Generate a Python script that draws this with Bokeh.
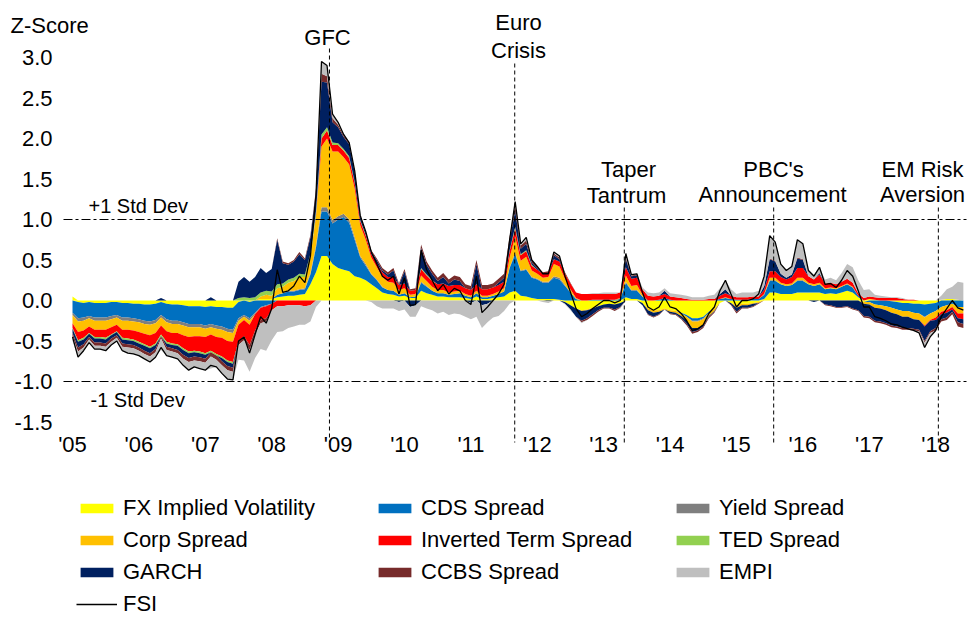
import numpy as np
import pandas as pd
from bokeh.plotting import figure
from bokeh.models import (Label, Legend, LegendItem, FixedTicker, LinearAxis,
                          PrintfTickFormatter, ColumnDataSource)
from bokeh.embed import file_html
from bokeh.resources import INLINE

# ---------------- data (monthly, Jan 2005 .. Jun 2018) ----------------
months = pd.date_range("2005-01-01", "2018-06-01", freq="MS")

fx = [0.05, -0.02, -0.03, -0.02, -0.03, -0.03, -0.03, -0.02, -0.02, -0.03, -0.03, -0.04,
      -0.04, -0.05, -0.05, -0.04, -0.02, -0.04, -0.05, -0.05, -0.06, -0.07, -0.07, -0.07,
      -0.08, -0.07, -0.08, -0.08, -0.09, -0.09, -0.02, 0.00, -0.02, 0.00, 0.02, 0.02,
      0.02, 0.04, 0.05, 0.06, 0.06, 0.07, 0.08, 0.20, 0.35, 0.55, 0.55, 0.45,
      0.40, 0.38, 0.36, 0.30, 0.28, 0.25, 0.20, 0.15, 0.10, 0.08, 0.07, 0.05,
      0.06, 0.03, 0.03, 0.12, 0.09, 0.07, 0.05, 0.05, 0.04, 0.04, 0.04, 0.03,
      0.02, 0.05, 0.02, 0.02, 0.03, 0.04, 0.05, 0.10, 0.12, 0.06, 0.05, 0.03,
      0.02, 0.02, 0.02, 0.02, 0.01, -0.02, -0.06, -0.10, -0.12, -0.11, -0.09, -0.07,
      -0.05, -0.04, -0.05, -0.03, 0.04, 0.02, 0.02, -0.03, -0.10, -0.12, -0.12, -0.10,
      -0.12, -0.13, -0.15, -0.18, -0.22, -0.22, -0.20, -0.14, -0.10, -0.03, 0.00, -0.03,
      -0.06, -0.04, -0.04, -0.03, -0.02, 0.02, 0.10, 0.10, 0.08, 0.08, 0.08, 0.10,
      0.10, 0.10, 0.10, 0.10, 0.08, 0.09, 0.08, 0.10, 0.12, 0.10, 0.04, -0.02,
      0.02, 0.01, 0.00, 0.00, -0.01, -0.02, -0.03, -0.03, -0.04, -0.04, -0.05, -0.04,
      -0.03, 0.01, 0.02, 0.02, 0.01, 0.00]

cds = [-0.15, -0.20, -0.18, -0.17, -0.18, -0.18, -0.18, -0.17, -0.16, -0.18, -0.18, -0.18,
       -0.19, -0.20, -0.21, -0.20, -0.16, -0.19, -0.20, -0.20, -0.21, -0.22, -0.22, -0.22,
       -0.23, -0.22, -0.23, -0.24, -0.26, -0.27, -0.20, -0.18, -0.20, -0.15, -0.08, -0.06,
       -0.04, 0.03, 0.04, 0.05, 0.05, 0.06, 0.06, 0.12, 0.30, 0.55, 0.55, 0.50,
       0.60, 0.65, 0.60, 0.45, 0.25, 0.18, 0.12, 0.10, 0.06, 0.05, 0.05, 0.02,
       0.03, 0.01, 0.02, 0.10, 0.08, 0.05, 0.04, 0.04, 0.03, 0.04, 0.05, 0.03,
       0.02, 0.04, 0.02, 0.02, 0.03, 0.04, 0.06, 0.30, 0.45, 0.30, 0.33, 0.25,
       0.24, 0.20, 0.20, 0.26, 0.25, 0.18, 0.10, 0.02, 0.00, 0.00, 0.01, 0.01,
       0.01, 0.01, 0.01, 0.02, 0.18, 0.10, 0.10, 0.05, 0.00, 0.00, 0.01, 0.03,
       0.01, 0.00, -0.01, -0.02, -0.03, -0.03, -0.02, -0.01, 0.00, 0.02, 0.03, 0.02,
       0.01, 0.01, 0.01, 0.02, 0.02, 0.05, 0.14, 0.14, 0.12, 0.10, 0.11, 0.14,
       0.14, 0.10, 0.08, 0.10, 0.06, 0.06, 0.06, 0.07, 0.08, 0.06, 0.02, 0.00,
       -0.02, -0.05, -0.06, -0.07, -0.08, -0.09, -0.10, -0.10, -0.11, -0.12, -0.15, -0.12,
       -0.10, -0.08, -0.06, -0.04, -0.08, -0.08]

yld = [-0.03, -0.04, -0.04, -0.03, -0.04, -0.04, -0.04, -0.04, -0.03, -0.04, -0.04, -0.04,
       -0.04, -0.04, -0.04, -0.04, -0.03, -0.04, -0.04, -0.04, -0.04, -0.04, -0.04, -0.04,
       -0.04, -0.04, -0.04, -0.04, -0.04, -0.04, -0.03, -0.02, -0.03, -0.02, -0.01, -0.01,
       0.00, 0.00, 0.00, 0.01, 0.01, 0.01, 0.01, 0.02, 0.03, 0.05, 0.05, 0.04,
       0.04, 0.04, 0.04, 0.03, 0.02, 0.02, 0.01, 0.01, 0.01, 0.00, 0.00, 0.00,
       0.00, 0.00, 0.00, 0.01, 0.01, 0.00, 0.00, 0.00, 0.00, 0.00, 0.00, 0.00,
       0.00, 0.00, 0.00, 0.00, 0.00, 0.00, 0.00, 0.01, 0.02, 0.01, 0.01, 0.01,
       0.01, 0.01, 0.01, 0.02, 0.02, 0.01, 0.00, 0.00, 0.00, 0.00, 0.00, 0.00,
       0.00, 0.00, 0.00, 0.00, 0.01, 0.01, 0.01, 0.00, 0.00, 0.00, 0.00, 0.00,
       0.00, 0.00, 0.00, 0.00, -0.01, -0.01, -0.01, 0.00, 0.00, 0.00, 0.00, 0.00,
       0.00, 0.00, 0.00, 0.00, 0.00, 0.00, 0.01, 0.01, 0.00, 0.00, 0.00, 0.01,
       0.01, 0.00, 0.00, 0.00, 0.00, 0.00, 0.00, 0.00, 0.00, 0.00, 0.00, 0.00,
       0.00, 0.00, 0.00, 0.00, 0.00, 0.00, 0.00, 0.00, 0.00, 0.00, -0.01, 0.00,
       0.00, 0.00, 0.00, 0.00, 0.00, 0.00]

corp = [-0.10, -0.13, -0.12, -0.10, -0.11, -0.11, -0.11, -0.10, -0.09, -0.11, -0.11, -0.11,
        -0.12, -0.12, -0.13, -0.12, -0.10, -0.11, -0.11, -0.11, -0.12, -0.12, -0.11, -0.11,
        -0.10, -0.09, -0.10, -0.10, -0.11, -0.11, -0.05, -0.04, -0.05, 0.00, 0.03, 0.05,
        0.04, 0.08, 0.08, 0.10, 0.12, 0.15, 0.14, 0.20, 0.35, 0.75, 0.85, 0.85,
        0.80, 0.70, 0.68, 0.60, 0.38, 0.30, 0.20, 0.15, 0.12, 0.10, 0.10, 0.06,
        0.06, 0.03, 0.03, 0.08, 0.06, 0.05, 0.04, 0.04, 0.03, 0.03, 0.03, 0.02,
        0.02, 0.03, 0.02, 0.02, 0.02, 0.03, 0.04, 0.12, 0.20, 0.12, 0.15, 0.08,
        0.06, 0.05, 0.06, 0.15, 0.14, 0.08, 0.04, 0.01, -0.01, -0.01, -0.01, 0.00,
        0.00, 0.00, 0.00, 0.01, 0.08, 0.05, 0.06, 0.02, -0.02, -0.03, -0.02, -0.01,
        -0.02, -0.02, -0.03, -0.05, -0.08, -0.08, -0.07, -0.04, -0.03, 0.00, 0.01, 0.00,
        -0.03, -0.02, -0.02, -0.01, -0.01, 0.01, 0.03, 0.03, 0.02, 0.02, 0.02, 0.03,
        0.03, 0.02, 0.02, 0.02, 0.01, 0.01, 0.01, 0.01, 0.01, 0.01, 0.00, -0.02,
        -0.03, -0.04, -0.04, -0.05, -0.06, -0.06, -0.07, -0.07, -0.08, -0.08, -0.10, -0.08,
        -0.08, -0.06, -0.06, -0.04, -0.08, -0.08]

inv = [-0.06, -0.10, -0.09, -0.08, -0.09, -0.09, -0.10, -0.09, -0.08, -0.10, -0.11, -0.11,
       -0.12, -0.13, -0.14, -0.13, -0.11, -0.13, -0.13, -0.14, -0.16, -0.18, -0.18, -0.19,
       -0.20, -0.20, -0.21, -0.23, -0.24, -0.25, -0.20, -0.20, -0.25, -0.20, -0.15, -0.15,
       -0.08, -0.07, -0.07, -0.06, -0.06, -0.06, -0.07, -0.06, 0.02, 0.10, 0.10, 0.08,
       0.08, 0.08, 0.08, 0.07, 0.05, 0.05, 0.04, 0.05, 0.06, 0.06, 0.07, 0.06,
       0.06, 0.05, 0.05, 0.08, 0.07, 0.07, 0.07, 0.08, 0.08, 0.08, 0.07, 0.07,
       0.07, 0.08, 0.08, 0.08, 0.08, 0.08, 0.08, 0.08, 0.10, 0.07, 0.07, 0.06,
       0.05, 0.05, 0.05, 0.06, 0.06, 0.06, 0.07, 0.07, 0.08, 0.08, 0.07, 0.07,
       0.07, 0.07, 0.07, 0.07, 0.10, 0.09, 0.09, 0.07, 0.06, 0.05, 0.05, 0.05,
       0.04, 0.04, 0.03, 0.02, 0.01, 0.01, 0.01, 0.02, 0.02, 0.04, 0.05, 0.04,
       0.03, 0.03, 0.03, 0.03, 0.03, 0.05, 0.08, 0.08, 0.07, 0.06, 0.08, 0.12,
       0.12, 0.08, 0.06, 0.10, 0.06, 0.06, 0.05, 0.05, 0.06, 0.05, 0.03, 0.03,
       0.03, 0.03, 0.03, 0.03, 0.03, 0.03, 0.02, 0.01, 0.01, 0.00, -0.01, -0.01,
       -0.03, -0.03, -0.03, -0.03, -0.06, -0.07]

ted = [-0.01, -0.02, -0.02, -0.01, -0.02, -0.02, -0.02, -0.01, -0.01, -0.02, -0.02, -0.02,
       -0.02, -0.02, -0.02, -0.02, -0.02, -0.02, -0.02, -0.02, -0.02, -0.02, -0.02, -0.02,
       -0.02, -0.02, -0.02, -0.02, -0.02, -0.02, 0.03, 0.04, 0.03, 0.04, 0.05, 0.05,
       0.05, 0.05, 0.04, 0.04, 0.04, 0.04, 0.03, 0.04, 0.05, 0.05, 0.04, 0.03,
       0.02, 0.02, 0.02, 0.01, 0.01, 0.01, 0.00, 0.00, 0.00, 0.00, 0.00, 0.00,
       0.00, 0.00, 0.00, 0.01, 0.01, 0.01, 0.00, 0.00, 0.00, 0.00, 0.00, 0.00,
       0.00, 0.00, 0.00, 0.00, 0.00, 0.00, 0.00, 0.01, 0.02, 0.01, 0.01, 0.01,
       0.00, 0.00, 0.00, 0.00, 0.00, 0.00, 0.00, 0.00, 0.00, 0.00, 0.00, 0.00,
       0.00, 0.00, 0.00, 0.00, 0.00, 0.00, 0.00, 0.00, 0.00, 0.00, 0.00, 0.00,
       0.00, 0.00, 0.00, 0.00, 0.00, 0.00, 0.00, 0.00, 0.00, 0.00, 0.00, 0.00,
       0.00, 0.00, 0.00, 0.00, 0.00, 0.00, 0.00, 0.00, 0.00, 0.00, 0.00, 0.00,
       0.00, 0.00, 0.00, 0.00, 0.00, 0.00, 0.00, 0.00, 0.00, 0.00, 0.00, 0.00,
       0.00, 0.00, 0.00, 0.00, 0.00, 0.00, 0.00, 0.00, 0.00, 0.00, 0.00, 0.00,
       0.00, 0.00, 0.00, 0.00, 0.00, 0.00]

garch = [-0.05, -0.07, -0.06, -0.04, -0.05, -0.05, -0.05, -0.04, -0.04, -0.05, -0.05, -0.05,
         -0.05, -0.06, -0.06, -0.05, 0.03, -0.04, -0.04, -0.05, -0.06, -0.06, -0.05, -0.05,
         -0.05, 0.04, 0.00, -0.04, -0.05, -0.05, 0.20, 0.25, 0.20, 0.25, 0.30, 0.22,
         0.28, 0.55, 0.25, 0.18, 0.20, 0.24, 0.18, 0.20, 0.25, 0.65, 0.55, 0.25,
         0.20, 0.15, 0.15, 0.12, 0.05, 0.03, 0.03, 0.04, 0.02, 0.03, 0.08, -0.02,
         0.15, -0.08, -0.06, 0.25, 0.12, 0.08, 0.04, 0.08, 0.03, 0.07, 0.05, 0.00,
         -0.03, 0.25, -0.06, -0.04, 0.00, 0.03, 0.05, 0.12, 0.20, 0.07, 0.08, 0.03,
         0.02, 0.00, -0.01, 0.05, 0.03, -0.02, -0.05, -0.10, -0.12, -0.10, -0.07, -0.05,
         -0.04, -0.05, -0.06, -0.05, 0.10, 0.03, 0.03, -0.03, -0.05, -0.05, -0.03, 0.04,
         -0.02, -0.02, -0.03, -0.04, -0.05, -0.03, -0.02, -0.01, -0.01, 0.02, 0.05, -0.02,
         -0.05, -0.03, -0.03, -0.03, 0.00, 0.05, 0.15, 0.12, 0.04, 0.02, 0.03, 0.12,
         0.10, 0.00, -0.02, 0.02, -0.05, -0.06, -0.08, -0.08, -0.07, -0.10, -0.12, -0.15,
         -0.15, -0.16, -0.16, -0.16, -0.16, -0.15, -0.14, -0.14, -0.12, -0.12, -0.18, -0.13,
         -0.10, -0.06, -0.06, -0.03, -0.05, -0.06]

ccbs = [-0.04, -0.05, -0.04, -0.03, -0.04, -0.04, -0.04, -0.04, -0.03, -0.04, -0.04, -0.04,
        -0.04, -0.04, -0.04, -0.04, -0.03, -0.04, -0.04, -0.04, -0.05, -0.05, -0.05, -0.05,
        -0.05, -0.05, -0.05, -0.05, -0.05, -0.05, -0.05, -0.05, -0.06, -0.05, -0.04, -0.04,
        0.00, 0.02, 0.02, 0.02, 0.02, 0.03, 0.02, 0.03, 0.03, 0.10, 0.08, 0.05,
        0.03, 0.02, 0.02, 0.02, 0.01, 0.01, 0.02, 0.02, 0.03, 0.03, 0.03, 0.02,
        0.03, 0.02, 0.02, 0.04, 0.04, 0.04, 0.04, 0.05, 0.05, 0.05, 0.05, 0.05,
        0.05, 0.05, 0.05, 0.05, 0.05, 0.05, 0.05, 0.05, 0.07, 0.04, 0.04, 0.03,
        0.02, 0.02, 0.02, 0.02, 0.02, 0.02, 0.01, 0.00, -0.02, -0.02, -0.02, -0.02,
        -0.01, -0.01, -0.02, -0.01, 0.02, 0.01, 0.01, 0.00, -0.01, -0.01, -0.01, 0.00,
        -0.01, -0.01, -0.01, -0.02, -0.02, -0.02, -0.02, -0.02, -0.01, 0.00, 0.00, -0.01,
        -0.02, -0.01, -0.01, -0.01, -0.01, 0.00, 0.01, 0.01, 0.00, 0.00, 0.00, 0.01,
        0.01, 0.00, 0.00, 0.00, -0.01, -0.01, -0.01, -0.01, -0.01, -0.01, -0.01, -0.02,
        -0.02, -0.02, -0.02, -0.02, -0.02, -0.02, -0.02, -0.02, -0.02, -0.02, -0.02, -0.02,
        -0.03, -0.03, -0.03, -0.03, -0.05, -0.05]

empi = [-0.06, -0.07, -0.04, -0.04, -0.04, -0.04, -0.05, -0.04, -0.04, -0.05, -0.07, -0.07,
        -0.06, -0.06, -0.07, -0.06, -0.14, -0.07, -0.07, -0.07, -0.08, -0.10, -0.08, -0.09,
        -0.09, -0.15, -0.09, -0.10, -0.11, -0.10, -0.18, -0.25, -0.27, -0.29, -0.32, -0.36,
        -0.37, -0.32, -0.31, -0.28, -0.26, -0.24, -0.23, -0.20, -0.08, 0.15, 0.13, 0.05,
        0.03, 0.01, 0.00, 0.00, 0.00, 0.00, -0.02, -0.07, -0.10, -0.10, -0.10, -0.11,
        -0.11, -0.12, -0.14, -0.07, -0.10, -0.12, -0.16, -0.14, -0.18, -0.16, -0.17, -0.20,
        -0.20, -0.20, -0.28, -0.23, -0.21, -0.19, -0.13, -0.04, 0.04, 0.02, 0.04, 0.00,
        0.00, -0.02, -0.02, 0.02, 0.02, -0.01, -0.01, 0.00, -0.01, 0.00, 0.01, 0.01,
        0.02, 0.02, 0.02, -0.01, 0.05, 0.01, 0.01, 0.02, 0.04, 0.04, 0.04, 0.03,
        0.04, 0.04, 0.04, 0.04, 0.03, 0.03, 0.03, 0.04, 0.05, 0.07, 0.11, 0.08,
        0.04, 0.06, 0.06, 0.05, 0.07, 0.12, 0.28, 0.23, 0.12, 0.09, 0.10, 0.22,
        0.19, 0.07, 0.06, 0.07, 0.05, 0.06, 0.05, 0.11, 0.18, 0.19, 0.16, 0.10,
        0.09, 0.03, 0.03, 0.02, 0.01, 0.01, 0.01, 0.00, -0.01, -0.02, -0.06, -0.05,
        0.00, 0.05, 0.12, 0.15, 0.22, 0.22]

series_names = ["FX Implied Volatility", "CDS Spread", "Yield Spread", "Corp Spread",
                "Inverted Term Spread", "TED Spread", "GARCH", "CCBS Spread", "EMPI"]
series_values = [fx, cds, yld, corp, inv, ted, garch, ccbs, empi]
series_colors = ["#FFFF00", "#0070C0", "#7F7F7F", "#FFC000", "#FF0000",
                 "#92D050", "#002060", "#772B2B", "#BFBFBF"]

year_ticks = list(range(2005, 2019))
y_ticks = [-1.5, -1.0, -0.5, 0.0, 0.5, 1.0, 1.5, 2.0, 2.5, 3.0]
std_levels = [1.0, -1.0]
std_labels = ["+1 Std Dev", "-1 Std Dev"]

event_dates = [2008.87, 2011.66, 2013.31, 2015.56, 2018.04]
event_labels = [["GFC"], ["Euro", "Crisis"], ["Taper", "Tantrum"],
                ["PBC's", "Announcement"], ["EM Risk", "Aversion"]]

for v in series_values:
    assert len(v) == len(months), len(v)

t = (months.year + (months.month - 1) / 12.0).to_numpy()

# ---------------- figure: the frame fills the whole canvas ----------------
W, H = 968, 617
FONT = "Liberation Sans"
PX_YEAR, PX_UNIT = 66.4, 81.0
X0 = 2005 - 72 / PX_YEAR
X1 = X0 + W / PX_YEAR
Y1 = 300 / PX_UNIT
Y0 = Y1 - H / PX_UNIT


def sx2x(sx):
    return X0 + sx / PX_YEAR


def sy2y(sy):
    return Y1 - sy / PX_UNIT


p = figure(width=W, height=H, x_range=(X0, X1), y_range=(Y0, Y1),
           output_backend="svg", toolbar_location=None,
           x_axis_location=None, y_axis_location=None, min_border=0)
p.xgrid.visible = False
p.ygrid.visible = False
p.outline_line_color = None
p.background_fill_color = "white"
p.border_fill_color = "white"

pos_base = np.zeros(len(t))
neg_base = np.zeros(len(t))
legend_items = []
for name, vals, col in zip(series_names, series_values, series_colors):
    v = np.asarray(vals, dtype=float)
    pos = np.clip(v, 0, None)
    neg = np.clip(v, None, 0)
    src_p = ColumnDataSource(dict(x=t, y1=pos_base.copy(), y2=pos_base + pos))
    src_n = ColumnDataSource(dict(x=t, y1=neg_base.copy(), y2=neg_base + neg))
    rp = p.varea(x="x", y1="y1", y2="y2", source=src_p, fill_color=col)
    p.varea(x="x", y1="y1", y2="y2", source=src_n, fill_color=col)
    pos_base = pos_base + pos
    neg_base = neg_base + neg
    legend_items.append(LegendItem(label=name, renderers=[rp]))

fsi = np.sum(np.asarray(series_values, dtype=float), axis=0)
rl = p.line(t, fsi, line_color="black", line_width=1.3)
fsi_item = LegendItem(label="FSI", renderers=[rl])

# +/-1 std dev reference lines
p.segment(x0=[sx2x(63)] * 2, y0=std_levels, x1=[sx2x(966)] * 2, y1=std_levels,
          line_color="black", line_width=1, line_dash="9 3 3 3")
for lvl, txt, sx, sy in zip(std_levels, std_labels, [88, 90], [205, 399]):
    p.add_layout(Label(x=sx2x(sx), y=sy2y(sy), text=txt, text_align="left",
                       text_baseline="middle", text_font=FONT, text_font_size="20px",
                       text_color="black"))

# event lines and labels
tops = [sy2y(48), sy2y(63), sy2y(207), sy2y(207), sy2y(207)]
p.segment(x0=event_dates, y0=tops, x1=event_dates, y1=[sy2y(442)] * len(event_dates),
          line_color="black", line_width=1, line_dash="4 3")

label_pos = [[(327, 37)], [(518, 22), (518, 50)], [(628, 169), (626, 195)],
             [(773, 169), (772, 194)], [(922, 169), (922, 194)]]
for lines, poss in zip(event_labels, label_pos):
    for txt, (sx, sy) in zip(lines, poss):
        p.add_layout(Label(x=sx2x(sx), y=sy2y(sy), text=txt, text_align="center",
                           text_baseline="middle", text_font=FONT,
                           text_font_size="22px", text_color="black"))

p.add_layout(Label(x=sx2x(10), y=sy2y(25), text="Z-Score", text_align="left",
                   text_baseline="middle", text_font=FONT, text_font_size="22px",
                   text_color="black"))

# axes drawn at fixed positions inside the canvas
xaxis = LinearAxis(ticker=FixedTicker(ticks=year_ticks), fixed_location=sy2y(430),
                   major_label_overrides={y: "'%02d" % (y % 100) for y in year_ticks},
                   major_label_standoff=1)
yaxis = LinearAxis(ticker=FixedTicker(ticks=y_ticks), fixed_location=sx2x(62),
                   formatter=PrintfTickFormatter(format="%.1f"), major_label_standoff=10)
for ax in (xaxis, yaxis):
    ax.axis_line_color = None
    ax.major_tick_line_color = None
    ax.minor_tick_line_color = None
    ax.major_tick_out = 0
    ax.major_tick_in = 0
    ax.minor_tick_out = 0
    ax.major_label_text_font = FONT
    ax.major_label_text_font_size = "22px"
    ax.major_label_text_color = "black"
p.add_layout(xaxis, "below")
p.add_layout(yaxis, "left")

# legend (inside the canvas-wide frame, placed in screen pixels)
LH, SP = 26, 6
leg_h = 4 * LH + 3 * SP
legend = Legend(items=legend_items + [fsi_item], orientation="horizontal", ncols=3,
                location=(76, H - 495 - leg_h), label_text_font=FONT,
                label_text_font_size="22px", label_text_color="black",
                glyph_width=41, glyph_height=12, label_width=245, label_height=LH,
                label_standoff=6, spacing=SP, padding=0, margin=0,
                border_line_color=None, background_fill_alpha=0)
p.add_layout(legend)

open("out.html", "w").write(file_html(p, INLINE))
